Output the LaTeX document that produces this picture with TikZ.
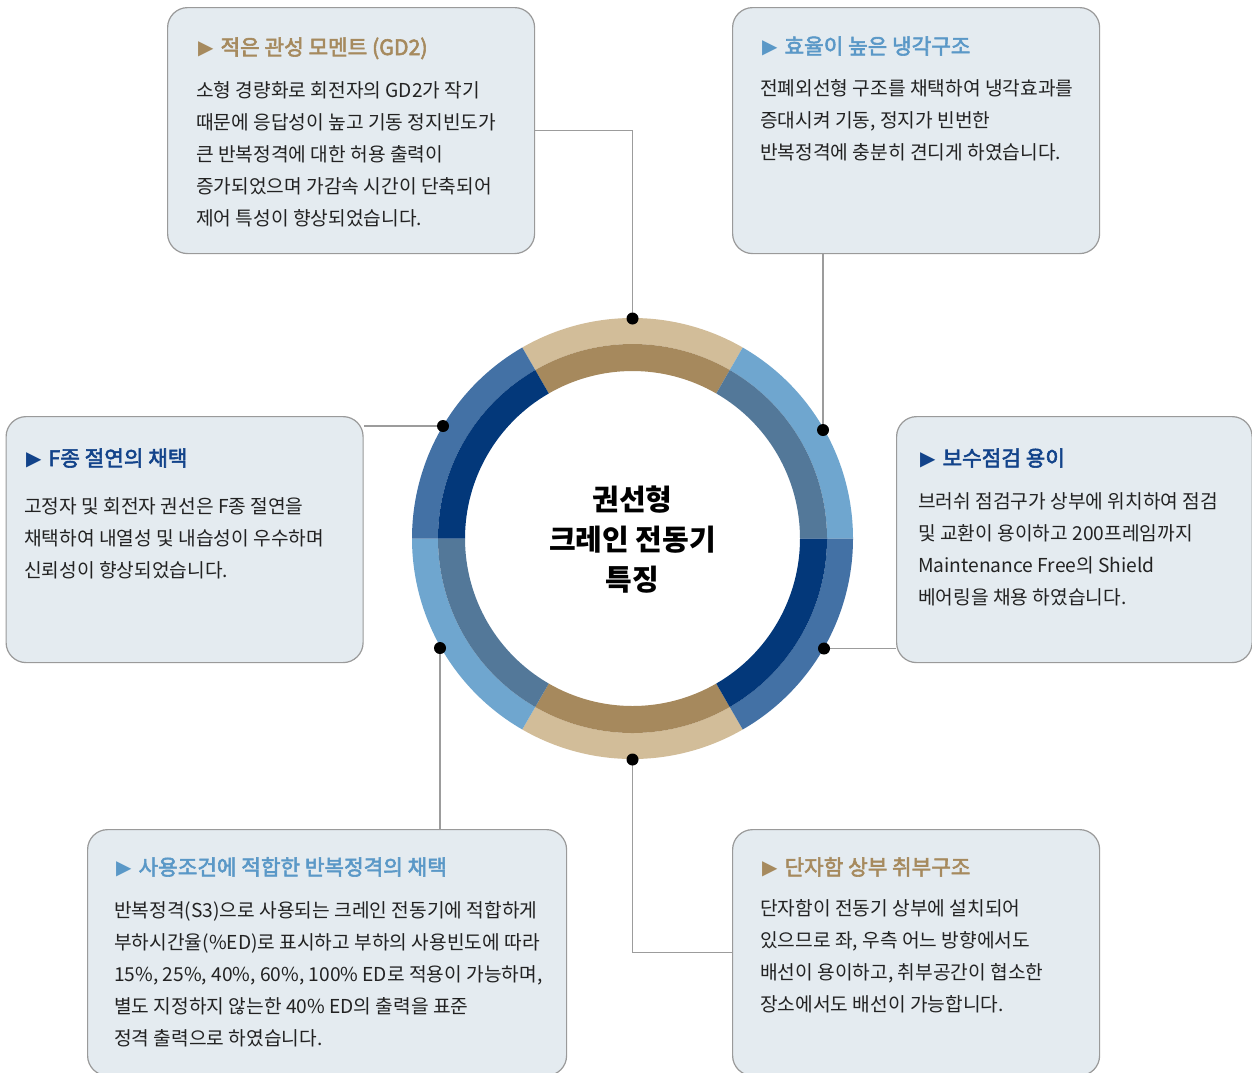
\documentclass[tikz,border=0pt]{standalone}
\usepackage{fontspec}
\setmainfont{Noto Sans CJK KR}
\newfontfamily\trifont{DejaVu Sans}
\newfontfamily\ttlfont{Noto Sans CJK KR}[FakeBold=2.6]
\definecolor{boxfill}{HTML}{E4EBF0}
\definecolor{cardline}{HTML}{9A9A9A}
\definecolor{connline}{HTML}{9C9C9C}
\definecolor{bodytext}{HTML}{222222}
\definecolor{tanOut}{HTML}{D2BD99}
\definecolor{tanIn}{HTML}{A6895D}
\definecolor{ltOut}{HTML}{6FA6CF}
\definecolor{ltIn}{HTML}{537899}
\definecolor{dkOut}{HTML}{4371A5}
\definecolor{dkIn}{HTML}{03387A}
\definecolor{tanT}{HTML}{A68A5E}
\definecolor{ltT}{HTML}{5A98C7}
\definecolor{dkT}{HTML}{12438A}
\newcommand\ringseg[5]{\fill[#5] ([shift={(C)}]#1:#3) arc[start angle=#1, end angle=#2, radius=#3] -- ([shift={(C)}]#2:#4) arc[start angle=#2, end angle=#1, radius=#4] -- cycle;}
\newcommand\bodylines[4]{\foreach \t [count=\i] in {#4} {\node[body] (#1\i) at (#2, {#3+32*(\i-1)}) {\t};}}
\newcommand\tri{\raisebox{0.5pt}{\trifont\fontsize{20}{20}\selectfont ▶}\hspace{7pt}}
\begin{document}
\begin{tikzpicture}[x=1pt,y=-1pt,
  card/.style={draw=cardline, line width=1.2pt, fill=boxfill, rounded corners=20pt, anchor=north west, inner sep=0pt},
  body/.style={anchor=base west, inner sep=0pt, font=\fontsize{19.2}{23}\selectfont, text=bodytext},
  ttl/.style={anchor=base west, inner sep=0pt, font=\fontsize{21.3}{25}\selectfont\ttlfont},
  ctr/.style={anchor=base, inner sep=0pt, font=\fontsize{29}{34}\selectfont\bfseries, text=black},
  conn/.style={draw=connline, line width=1.2pt},
  dot/.style={circle, fill=black, minimum size=12pt, inner sep=0pt}]
\useasboundingbox[fill=white] (0,0) rectangle (1252,1072);
% cards
\node[card, minimum width=367pt, minimum height=246pt] (b1) at (167,7) {};
\node[card, minimum width=367pt, minimum height=246pt] (b2) at (732,7) {};
\node[card, minimum width=357pt, minimum height=246pt] (b3) at (5.5,416) {};
\node[card, minimum width=355.5pt, minimum height=246pt] (b4) at (896,416) {};
\node[card, minimum width=479pt, minimum height=246pt] (b5) at (87,829) {};
\node[card, minimum width=367pt, minimum height=246pt] (b6) at (732,829) {};
% ring centre and dot positions
\coordinate (C) at (632.5,538.5);
\coordinate (pT) at (632.5,318.5);
\coordinate (pUR) at (823,430);
\coordinate (pUL) at (443,426);
\coordinate (pLL) at (440,648);
\coordinate (pLR) at (824,648.5);
\coordinate (pB) at (632.5,759.5);
% connectors
\draw[conn] (pT) |- (b1.east);
\draw[conn] (pUR) -- (pUR |- b2.south);
\draw[conn] (pUL) -- (pUL -| b3.east);
\draw[conn] (pLR) -- (pLR -| b4.west);
\draw[conn] (pLL) -- (pLL |- b5.north);
\draw[conn] (pB) |- (b6.west);
% ring
\ringseg{-60}{-120}{194.5}{220.5}{tanOut}
\ringseg{-60}{-120}{167.5}{194.5}{tanIn}
\ringseg{60}{120}{194.5}{220.5}{tanOut}
\ringseg{60}{120}{167.5}{194.5}{tanIn}
\ringseg{0}{-60}{194.5}{220.5}{ltOut}
\ringseg{0}{-60}{167.5}{194.5}{ltIn}
\ringseg{120}{180}{194.5}{220.5}{ltOut}
\ringseg{120}{180}{167.5}{194.5}{ltIn}
\ringseg{0}{60}{194.5}{220.5}{dkOut}
\ringseg{0}{60}{167.5}{194.5}{dkIn}
\ringseg{-120}{-180}{194.5}{220.5}{dkOut}
\ringseg{-120}{-180}{167.5}{194.5}{dkIn}
% dots
\node[dot] (dT) at (pT) {};
\node[dot] (dUR) at (pUR) {};
\node[dot] (dUL) at (pUL) {};
\node[dot] (dLL) at (pLL) {};
\node[dot] (dLR) at (pLR) {};
\node[dot] (dB) at (pB) {};
% centre text
\node[ctr] (c1) at (632.5,510) {권선형};
\node[ctr] (c2) at (632.5,550) {크레인 전동기};
\node[ctr] (c3) at (632.5,590) {특징};
% titles
\node[ttl, text=tanT] (t1) at (198,55) {\tri 적은 관성 모멘트 (GD2)};
\node[ttl, text=ltT] (t2) at (762,54) {\tri 효율이 높은 냉각구조};
\node[ttl, text=dkT] (t3) at (26,466) {\tri F종 절연의 채택};
\node[ttl, text=dkT] (t4) at (920,466) {\tri 보수점검 용이};
\node[ttl, text=ltT] (t5) at (116,875) {\tri 사용조건에 적합한 반복정격의 채택};
\node[ttl, text=tanT] (t6) at (762,875) {\tri 단자함 상부 취부구조};
% bodies
\bodylines{l1}{196}{97}{소형 경량화로 회전자의 GD2가 작기, 때문에 응답성이 높고 기동 정지빈도가, 큰 반복정격에 대한 허용 출력이, 증가되었으며 가감속 시간이 단축되어, 제어 특성이 향상되었습니다.}
\bodylines{l2}{760}{95}{전폐외선형 구조를 채택하여 냉각효과를, {증대시켜 기동, 정지가 빈번한}, 반복정격에 충분히 견디게 하였습니다.}
\bodylines{l3}{24}{513}{고정자 및 회전자 권선은 F종 절연을, 채택하여 내열성 및 내습성이 우수하며, 신뢰성이 향상되었습니다.}
\bodylines{l4}{918}{508}{브러쉬 점검구가 상부에 위치하여 점검, 및 교환이 용이하고 200프레임까지, Maintenance Free의 Shield, 베어링을 채용 하였습니다.}
\bodylines{l5}{114}{917}{반복정격(S3)으로 사용되는 크레인 전동기에 적합하게, 부하시간율(\%ED)로 표시하고 부하의 사용빈도에 따라, {15\%, 25\%, 40\%, 60\%, 100\% ED로 적용이 가능하며,}, 별도 지정하지 않는한 40\% ED의 출력을 표준, 정격 출력으로 하였습니다.}
\bodylines{l6}{760}{915}{단자함이 전동기 상부에 설치되어, {있으므로 좌, 우측 어느 방향에서도}, {배선이 용이하고, 취부공간이 협소한}, 장소에서도 배선이 가능합니다.}
\end{tikzpicture}
\end{document}
